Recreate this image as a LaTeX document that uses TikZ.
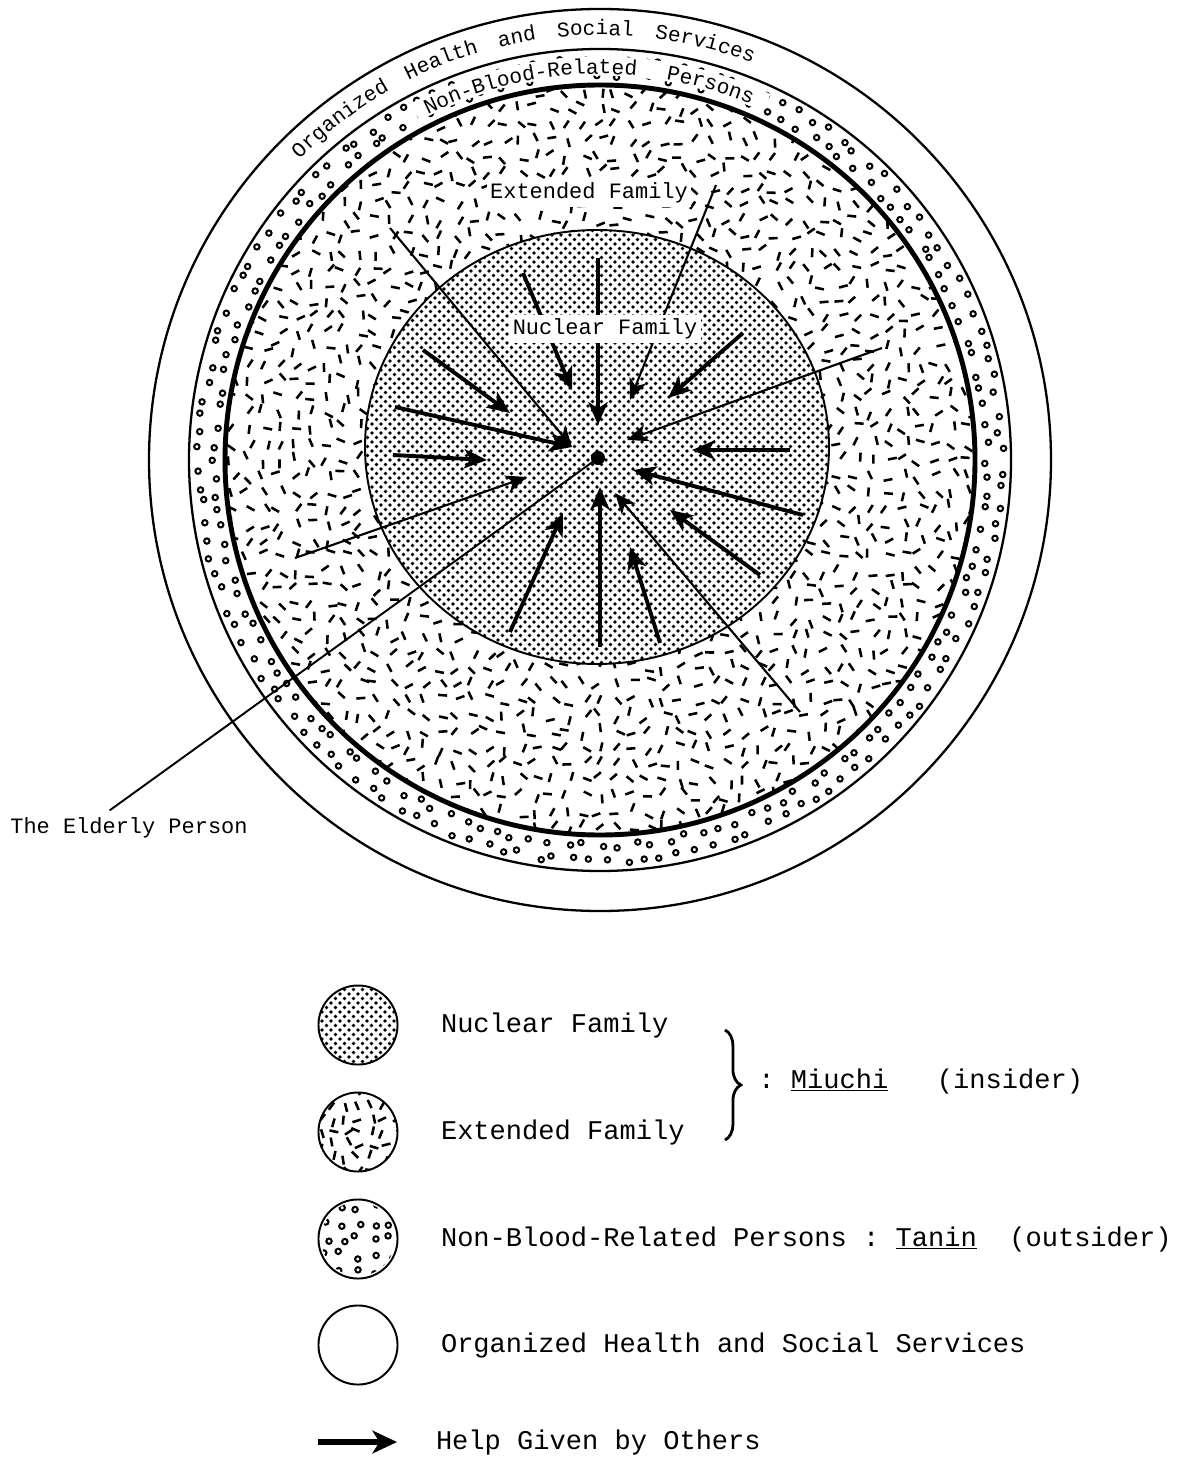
\documentclass[tikz,border=0pt]{standalone}
\usepackage{fontspec}
\setmonofont{Liberation Mono}
\usetikzlibrary{positioning, arrows.meta, decorations.text, decorations.pathreplacing}
\newcommand{\arclabelfont}{\ttfamily\fontsize{12pt}{14pt}\selectfont}

\begin{document}
\begin{tikzpicture}[x=0.02cm, y=0.02cm]
  \tikzset{
    ringline/.style={line width=1.3pt},
    bloodline/.style={line width=2.8pt},
    nucline/.style={line width=1.1pt},
    helparrow/.style={line width=2.2pt, -{Stealth[length=13pt, width=11pt, inset=3.5pt]}},
    longarrow/.style={line width=1.2pt, -{Stealth[length=12pt, width=10pt, inset=3.5pt]}},
    dashmark/.style={line width=1.45pt},
    circmark/.style={line width=1.15pt},
    boxlabel/.style={fill=white, inner sep=2pt, font=\ttfamily\fontsize{12.5pt}{14pt}\selectfont},
    elderlabel/.style={anchor=west, inner sep=0pt, font=\ttfamily\fontsize{12.5pt}{14pt}\selectfont},
    legcircle/.style={circle, draw, line width=1.1pt, minimum size=45pt, inner sep=0pt},
    legtext/.style={anchor=west, inner sep=0pt, font=\ttfamily\fontsize{15.4pt}{18pt}\selectfont}
  }
  \useasboundingbox (0,0) rectangle (1190,-1462);
  \pgfmathsetseed{12}

  % Organized services (outer circle)
  \draw[ringline] (600,-460) circle[radius=451];

  % Non-blood-related persons: small rings
  \foreach \k in {0,...,139}{
    \pgfmathsetmacro{\aa}{360/140*\k+0.8*rand}
    \pgfmathsetmacro{\ab}{360/140*\k+1.3+0.8*rand}
    \pgfmathsetmacro{\ra}{386+3*rand}
    \pgfmathsetmacro{\rb}{401+3*rand}
    \draw[circmark] (600,-460) ++(\aa:\ra) circle[radius=2.7];
    \draw[circmark] (600,-460) ++(\ab:\rb) circle[radius=2.7];
  }
  % clear the ring under its label
  \draw[white, line width=11pt] (600,-460) ++(118:394) arc[start angle=118, end angle=65, radius=394];

  % Extended family: random dashes
  \fill[white] (600,-460) circle[radius=375];
  \begin{scope}
    \clip (600,-460) circle[radius=375];
    \foreach \i in {-23,...,23}{
      \foreach \j in {-23,...,23}{
        \pgfmathsetmacro{\px}{600+16*\i+5*rand}
        \pgfmathsetmacro{\py}{-460+16*\j+5*rand}
        \pgfmathsetmacro{\ang}{180*rnd}
        \draw[dashmark] (\px,\py) ++(\ang:-4.5) -- ++(\ang:9);
      }
    }
  \end{scope}

  % Nuclear family: halftone dots
  \fill[white] (597,-447) ellipse[x radius=232, y radius=217];
  \begin{scope}
    \clip (597,-447) ellipse[x radius=232, y radius=217];
    \foreach \j in {0,...,98}{
      \pgfmathsetmacro{\sh}{mod(\j,2)*4.5}
      \foreach \i in {-26,...,26}{
        \fill (597+9*\i+\sh, -667+4.5*\j) circle[radius=1.9];
      }
    }
  \end{scope}

  % Ring outlines
  \draw[ringline] (600,-460) circle[radius=411];
  \draw[bloodline] (600,-460) circle[radius=375];
  \draw[nucline] (597,-447) ellipse[x radius=232, y radius=217];

  % Help given by others
  \foreach \sx/\sy/\ex/\ey in {598/258/598/425, 523/273/572/390, 743/333/668/398,
      790/450/692/450, 803/515/633/470, 760/575/670/510, 660/643/630/547,
      600/647/600/487, 510/632/563/513, 393/455/487/460, 395/407/572/447,
      423/350/510/413}
    \draw[helparrow] (\sx,-\sy) -- (\ex,-\ey);
  \foreach \sx/\sy/\ex/\ey in {716/185/630/400, 882/348/627/440, 800/712/615/493,
      295/558/527/477, 390/228/572/447}
    \draw[longarrow] (\sx,-\sy) -- (\ex,-\ey);

  % Labels inside the circles
  \node[boxlabel] (extlabel) at (589,-193) {Extended Family};
  \node[boxlabel] (nuclabel) at (605,-329) {Nuclear Family};

  % The elderly person
  \node[circle, fill, inner sep=0pt, minimum size=8pt] (person) at (598,-458) {};
  \node[elderlabel] (elder) at (10,-828) {The Elderly Person};
  \draw[line width=1.1pt] ([xshift=-11pt, yshift=4pt]elder.north) -- (person.center);

  % Labels along the rings
  \path[decorate, decoration={text along path, text align={fit to path stretching spaces},
      text={|\arclabelfont|Organized Health and Social Services}}]
    (600,-460) ++(135:425) arc[start angle=135, end angle=69, radius=425];
  \path[decorate, decoration={text along path, text align={fit to path stretching spaces},
      text={|\arclabelfont|Non-Blood-Related Persons}}]
    (600,-460) ++(116.5:386) arc[start angle=116.5, end angle=67, radius=386];

  % Legend: nuclear family
  \begin{scope}
    \clip (358,-1025) circle[radius=39];
    \foreach \j in {0,...,18}{
      \pgfmathsetmacro{\sh}{mod(\j,2)*4.5}
      \foreach \i in {-5,...,5}{
        \fill (358+9*\i+\sh, -1066+4.5*\j) circle[radius=1.9];
      }
    }
  \end{scope}
  \node[legcircle] (legnuc) at (358,-1025) {};
  \node[legtext, right=24pt of legnuc] (legnuctxt) {Nuclear Family};

  % Legend: extended family
  \begin{scope}
    \clip (358,-1132) circle[radius=39];
    \foreach \i in {-3,...,3}{
      \foreach \j in {-3,...,3}{
        \pgfmathsetmacro{\px}{358+13*\i+4*rand}
        \pgfmathsetmacro{\py}{-1132+13*\j+4*rand}
        \pgfmathsetmacro{\ang}{180*rnd}
        \draw[dashmark] (\px,\py) ++(\ang:-4.5) -- ++(\ang:9);
      }
    }
  \end{scope}
  \node[legcircle] (legext) at (358,-1132) {};
  \node[legtext, right=24pt of legext] (legexttxt) {Extended Family};

  % Miuchi brace
  \coordinate (bracetop) at (725,-1030);
  \coordinate (bracebot) at (725,-1140);
  \draw[decorate, decoration={brace, amplitude=9pt}, line width=1.6pt] (bracetop) -- (bracebot);
  \node[legtext] (miuchi) at (758,-1081) {:~\underline{Miuchi}~~~(insider)};

  % Legend: non-blood-related persons
  \begin{scope}
    \clip (358,-1239) circle[radius=37];
    \foreach \i in {-2,...,2}{
      \foreach \j in {-2,...,2}{
        \pgfmathsetmacro{\px}{358+16*\i+4*rand}
        \pgfmathsetmacro{\py}{-1239+16*\j+4*rand}
        \draw[circmark] (\px,\py) circle[radius=2.7];
      }
    }
  \end{scope}
  \node[legcircle] (legnon) at (358,-1239) {};
  \node[legtext, right=24pt of legnon] (legnontxt) {Non-Blood-Related Persons :~\underline{Tanin}~~(outsider)};

  % Legend: organized services
  \node[legcircle] (legorg) at (358,-1345) {};
  \node[legtext, right=24pt of legorg] (legorgtxt) {Organized Health and Social Services};

  % Legend: help arrow
  \coordinate (legtail) at (318,-1442);
  \coordinate (leghead) at (397,-1442);
  \draw[line width=3.5pt, -{Stealth[length=14pt, width=13pt, inset=4pt]}] (legtail) -- (leghead);
  \node[legtext, right=22pt of leghead] (leghelptxt) {Help Given by Others};
\end{tikzpicture}
\end{document}
